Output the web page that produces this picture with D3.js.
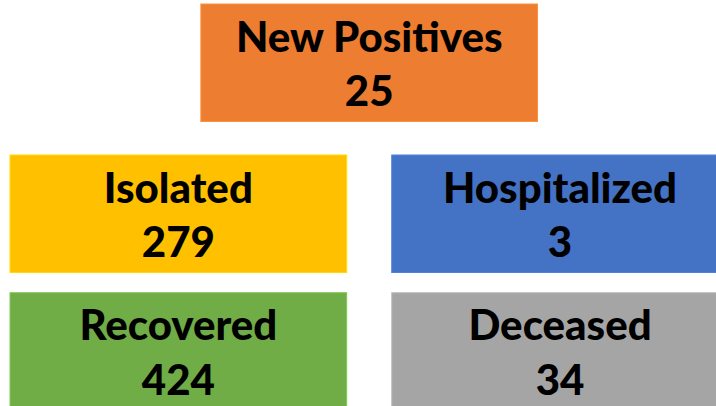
<!DOCTYPE html>
<html>
<head>
<meta charset="utf-8">
<script src="https://cdn.jsdelivr.net/npm/d3@7"></script>
<style>
  html, body { margin: 0; padding: 0; background: #ffffff; overflow: hidden; }
</style>
</head>
<body>
<div id="chart"></div>
<script>
// data for the summary boxes
var labels = ["New Positives", "Isolated", "Hospitalized", "Recovered", "Deceased"];
var values = [25, 279, 3, 424, 34];
var colors = ["#ED7D31", "#FFC000", "#4472C4", "#70AD47", "#A5A5A5"];
// grid place of every box (row, column), column -1 means centred
var rows = [0, 1, 1, 2, 2];
var cols = [-1, 0, 1, 0, 1];

window.onload = function() {
  main();
};

function main() {
  var width = 716,
      height = 406;

  var svg = d3.select("#chart")
    .append("svg")
    .attr("width", width)
    .attr("height", height);

  // columns of the lower grid
  var x = d3.scaleBand()
    .domain([0, 1])
    .range([10, 728.4])
    .paddingInner(0.118);

  // top of every row
  var y = d3.scaleOrdinal()
    .domain([0, 1, 2])
    .range([4, 155, 292.7]);

  var boxHeight = 117.5;

  // put the boxes in one list
  var boxes = labels.map(function(label, i) {
    var left = cols[i] < 0
      ? (x.range()[0] + x.range()[1]) / 2 - x.bandwidth() / 2
      : x(cols[i]);
    return {label: label, value: values[i], color: colors[i], x: left, y: y(rows[i])};
  });

  var g = svg.selectAll("g.box")
    .data(boxes)
    .enter()
    .append("g")
    .attr("class", "box")
    .attr("transform", function(d) { return "translate(" + d.x + "," + d.y + ")"; });

  g.append("rect")
    .attr("width", x.bandwidth())
    .attr("height", boxHeight)
    .attr("fill", function(d) { return d.color; })
    .attr("stroke", function(d) { return d3.color(d.color).brighter(0.4); })
    .attr("stroke-width", 1);

  // label line
  g.append("text")
    .attr("x", x.bandwidth() / 2)
    .attr("y", 47.5)
    .attr("text-anchor", "middle")
    .style("font-family", "Lato, 'Open Sans', sans-serif")
    .style("font-weight", "900")
    .style("font-size", "42px")
    .style("fill", "#000")
    .text(function(d) { return d.label; });

  // value line
  g.append("text")
    .attr("x", x.bandwidth() / 2)
    .attr("y", 102)
    .attr("text-anchor", "middle")
    .style("font-family", "Lato, 'Open Sans', sans-serif")
    .style("font-weight", "900")
    .style("font-size", "42px")
    .style("fill", "#000")
    .text(function(d) { return d.value; });
}
</script>
</body>
</html>
